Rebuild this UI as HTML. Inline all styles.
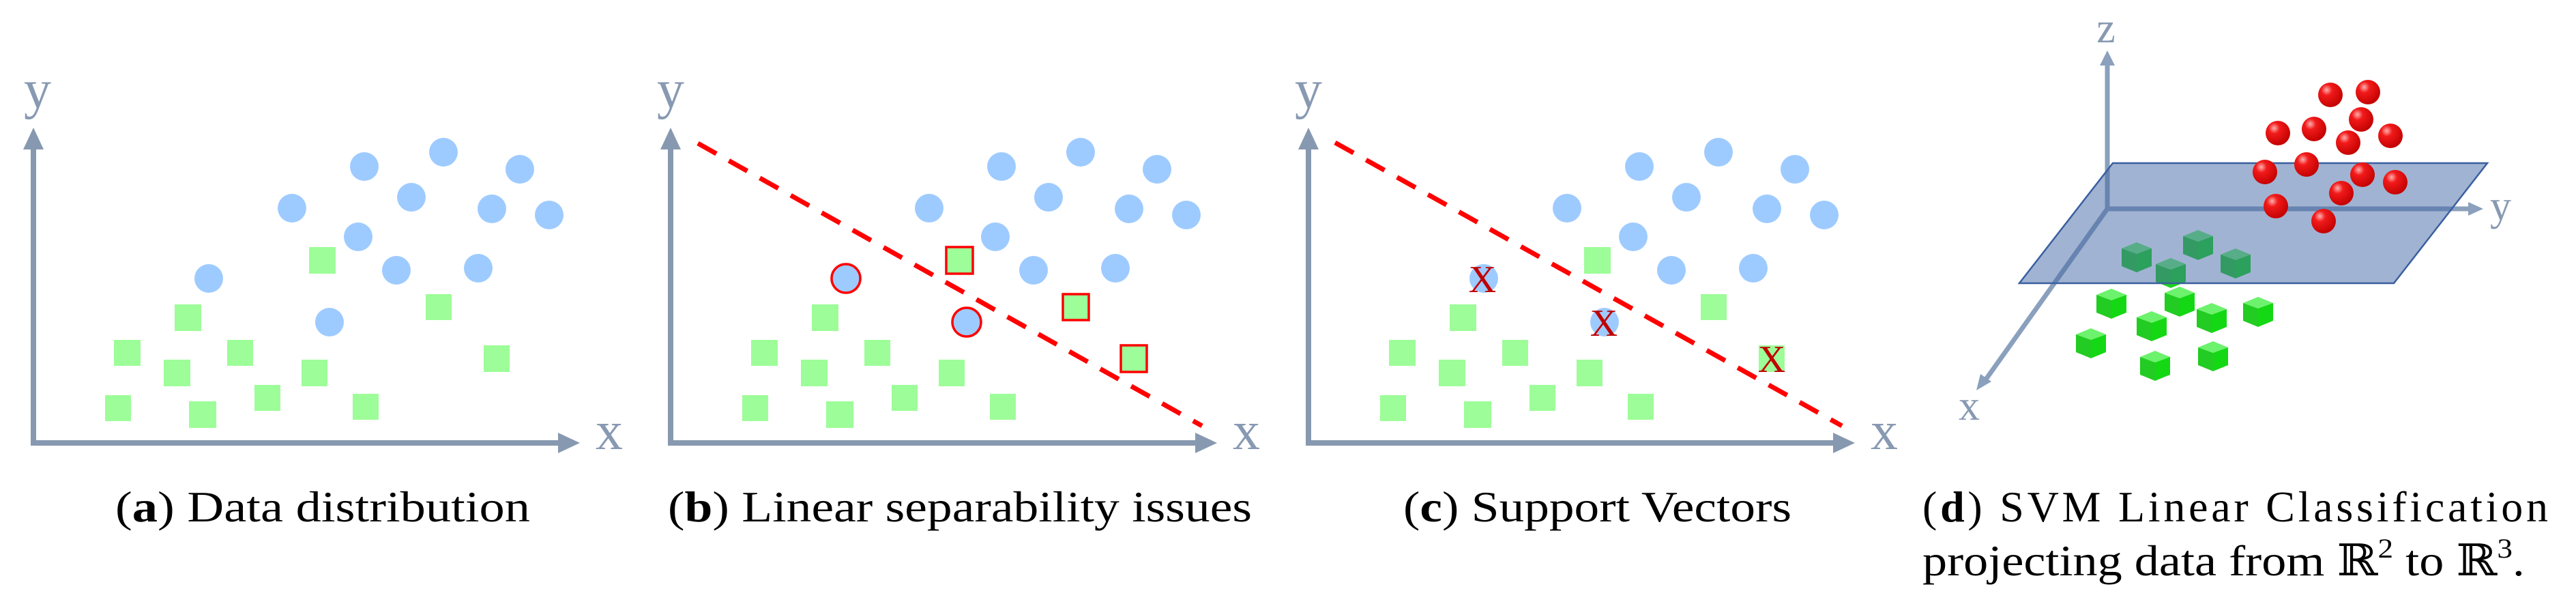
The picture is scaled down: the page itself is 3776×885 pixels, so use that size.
<!DOCTYPE html>
<html><head><meta charset="utf-8"><style>
html,body{margin:0;padding:0;background:#fff;}
svg{display:block;}
.cap{font-family:"Liberation Serif","DejaVu Serif",serif;font-size:64px;fill:#000;}
.ax{font-family:"Liberation Serif",serif;fill:#8899b2;}
</style></head><body>
<svg width="3776" height="885" viewBox="0 0 3776 885" xmlns="http://www.w3.org/2000/svg">
<defs>
<g id="axes">
  <line x1="49" y1="653" x2="49" y2="212" stroke="#8799b0" stroke-width="8"/>
  <polygon points="49,187 34,219 64,219" fill="#8799b0"/>
  <line x1="45" y1="649" x2="822" y2="649" stroke="#8799b0" stroke-width="8"/>
  <polygon points="850,649 818,634 818,664" fill="#8799b0"/>
</g>
<g id="circ" fill="#9ecbff">
  <circle cx="428" cy="305" r="21"/><circle cx="534" cy="244" r="21"/>
  <circle cx="650" cy="223" r="21"/><circle cx="762" cy="248" r="21"/><circle cx="603" cy="289" r="21"/>
  <circle cx="721" cy="306" r="21"/><circle cx="805" cy="315" r="21"/><circle cx="525" cy="347" r="21"/>
  <circle cx="581" cy="396" r="21"/><circle cx="701" cy="393" r="21"/>
</g>
<g id="sq" fill="#9dfd98">
  <rect x="453" y="362" width="39" height="39"/><rect x="256" y="446" width="39" height="39"/>
  <rect x="167" y="498" width="39" height="38"/><rect x="240" y="527" width="39" height="39"/>
  <rect x="333" y="498" width="38" height="38"/><rect x="442" y="527" width="38" height="39"/>
  <rect x="154" y="579" width="38" height="38"/><rect x="277" y="588" width="40" height="39"/>
  <rect x="373" y="564" width="38" height="38"/><rect x="517" y="577" width="38" height="38"/>
</g>
</defs>

<!-- Panel a -->
<use href="#axes"/><use href="#circ"/><use href="#sq"/>
<g fill="#9ecbff"><circle cx="306" cy="408" r="21"/><circle cx="483" cy="472" r="21"/></g>
<g fill="#9dfd98"><rect x="624" y="431" width="38" height="38"/><rect x="709" y="506" width="38" height="39"/></g>
<text class="ax" x="35" y="158" font-size="80">y</text>
<text class="ax" x="873" y="658" font-size="80">x</text>
<text class="cap" x="169" y="764" textLength="608" lengthAdjust="spacingAndGlyphs">(<tspan font-weight="bold">a</tspan>)  Data distribution</text>

<!-- Panel b -->
<g transform="translate(934,0)">
  <use href="#axes"/><use href="#circ"/><use href="#sq"/>
  <line x1="89" y1="210" x2="828" y2="624" stroke="#ff0000" stroke-width="7" stroke-dasharray="31,21"/>
  <g fill="#9ecbff" stroke="#ff0000" stroke-width="3.5"><circle cx="306" cy="408" r="21"/><circle cx="483" cy="472" r="21"/></g>
  <g fill="#9dfd98" stroke="#ff0000" stroke-width="3.5"><rect x="453" y="362" width="39" height="39"/><rect x="624" y="431" width="38" height="38"/><rect x="709" y="506" width="38" height="39"/></g>
</g>
<text class="ax" x="963" y="158" font-size="80">y</text>
<text class="ax" x="1807" y="658" font-size="80">x</text>
<text class="cap" x="979" y="764" textLength="856" lengthAdjust="spacingAndGlyphs">(<tspan font-weight="bold">b</tspan>)  Linear separability issues</text>

<!-- Panel c -->
<g transform="translate(1869,0)">
  <use href="#axes"/><use href="#circ"/><use href="#sq"/>
  <g fill="#9ecbff"><circle cx="306" cy="408" r="21"/><circle cx="483" cy="472" r="21"/></g>
  <g fill="#9dfd98"><rect x="624" y="431" width="38" height="38"/><rect x="709" y="506" width="38" height="39"/></g>
  <line x1="88" y1="209" x2="831" y2="624" stroke="#ff0000" stroke-width="7" stroke-dasharray="31,21"/>
  <g font-family="Liberation Serif, serif" font-size="56" fill="#c00000" text-anchor="middle">
    <text x="304" y="428">X</text><text x="482" y="492">X</text><text x="728" y="545">X</text>
  </g>
</g>
<text class="ax" x="1898" y="158" font-size="80">y</text>
<text class="ax" x="2742" y="658" font-size="80">x</text>
<text class="cap" x="2057" y="764" textLength="569" lengthAdjust="spacingAndGlyphs">(<tspan font-weight="bold">c</tspan>)  Support Vectors</text>

<!-- Panel d -->
<defs>
  <radialGradient id="rs" cx="0.35" cy="0.3" r="0.75">
    <stop offset="0" stop-color="#ffb0b0"/><stop offset="0.3" stop-color="#f21a1a"/><stop offset="1" stop-color="#c00000"/>
  </radialGradient>
  <g id="cube">
    <polygon points="-22,-13 0,-22 22,-13 0,-5" fill="#6cf26c"/>
    <polygon points="-22,-13 0,-5 0,22 -22,13" fill="#22cc22"/>
    <polygon points="0,-5 22,-13 22,13 0,22" fill="#14d814"/>
  </g>
</defs>
<g>
  <use href="#cube" transform="translate(3132,377)"/>
  <use href="#cube" transform="translate(3222,359)"/>
  <use href="#cube" transform="translate(3277,386)"/>
  <use href="#cube" transform="translate(3182,400)"/>
</g>
<line x1="3089" y1="306" x2="3089" y2="92" stroke="#8aa0bd" stroke-width="7"/>
<polygon points="3089,74 3078,96 3100,96" fill="#8aa0bd"/>
<line x1="3089" y1="306" x2="3622" y2="306" stroke="#8aa0bd" stroke-width="7"/>
<polygon points="3640,306 3618,296 3618,316" fill="#8aa0bd"/>
<line x1="3089" y1="306" x2="2908" y2="560" stroke="#8aa0bd" stroke-width="7"/>
<polygon points="2897,572 2903,548 2919,559" fill="#8aa0bd"/>
<polygon points="3097,239 3646,239 3509,415 2960,415" fill="#4468a6" fill-opacity="0.5" stroke="#3a5fa0" stroke-width="2.5"/>
<g>
  <use href="#cube" transform="translate(3095,445)"/>
  <use href="#cube" transform="translate(3195,442)"/>
  <use href="#cube" transform="translate(3242,466)"/>
  <use href="#cube" transform="translate(3310,457)"/>
  <use href="#cube" transform="translate(3154,478)"/>
  <use href="#cube" transform="translate(3065,503)"/>
  <use href="#cube" transform="translate(3159,536)"/>
  <use href="#cube" transform="translate(3244,522)"/>
</g>
<g fill="url(#rs)">
  <circle cx="3416" cy="139" r="18"/><circle cx="3471" cy="135" r="18"/><circle cx="3461" cy="175" r="18"/>
  <circle cx="3339" cy="195" r="18"/><circle cx="3392" cy="189" r="18"/><circle cx="3504" cy="199" r="18"/>
  <circle cx="3442" cy="209" r="18"/><circle cx="3381" cy="241" r="18"/><circle cx="3320" cy="252" r="18"/>
  <circle cx="3463" cy="256" r="18"/><circle cx="3511" cy="267" r="18"/><circle cx="3432" cy="283" r="18"/>
  <circle cx="3336" cy="302" r="18"/><circle cx="3406" cy="324" r="18"/>
</g>
<text class="ax" x="3087" y="62" font-size="62" text-anchor="middle">z</text>
<text class="ax" x="3650" y="322" font-size="62">y</text>
<text class="ax" x="2871" y="615" font-size="62">x</text>
<text class="cap" x="2818" y="764" textLength="917" lengthAdjust="spacing">(<tspan font-weight="bold">d</tspan>)  SVM Linear Classification</text>
<text class="cap" x="2818" y="843" textLength="883" lengthAdjust="spacingAndGlyphs">projecting data from <tspan font-family="DejaVu Serif, serif">ℝ</tspan><tspan font-size="40" dy="-26">2</tspan><tspan dy="26"> to </tspan><tspan font-family="DejaVu Serif, serif">ℝ</tspan><tspan font-size="40" dy="-26">3</tspan><tspan dy="26">.</tspan></text>
</svg>
</body></html>
